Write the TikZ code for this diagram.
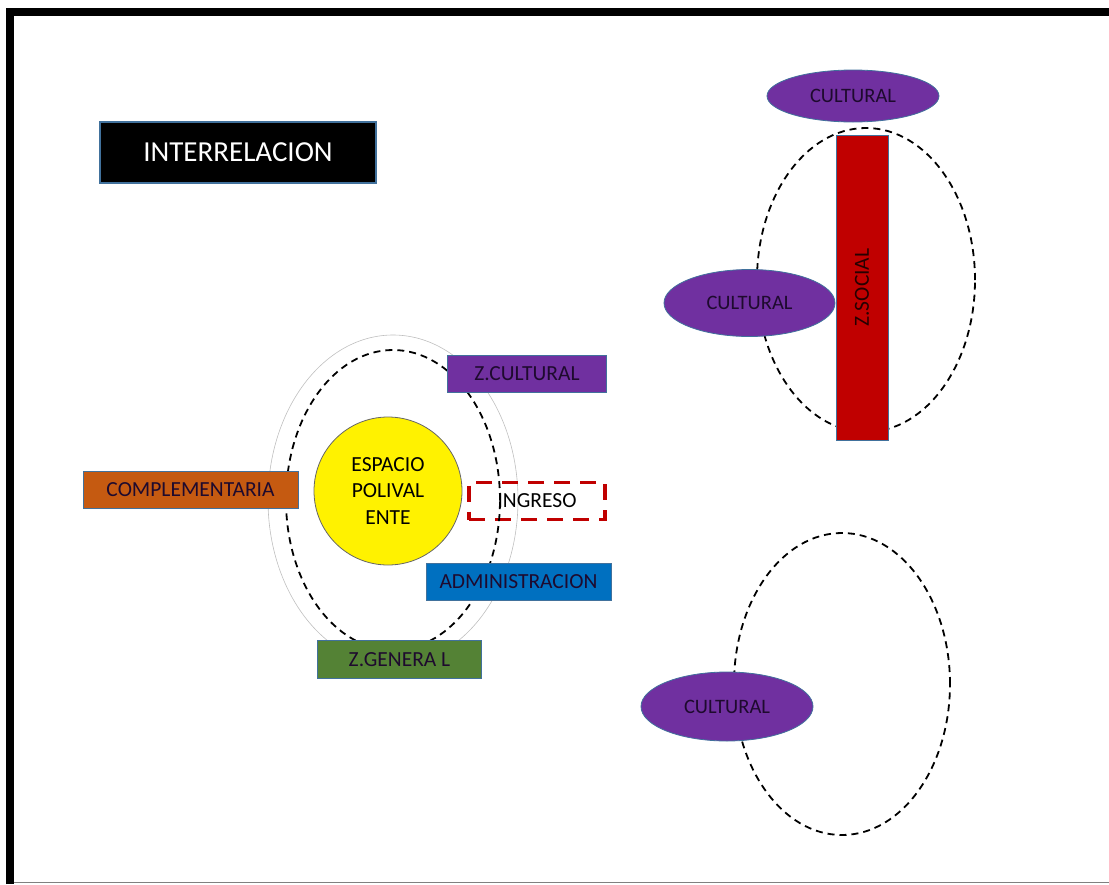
\documentclass[tikz,border=0pt]{standalone}
\usepackage{fontspec}
\setmainfont{Carlito}
\usetikzlibrary{shapes.geometric}
\definecolor{zpurple}{HTML}{7030A0}
\definecolor{zorange}{HTML}{C55A11}
\definecolor{zblue}{HTML}{0070C0}
\definecolor{zgreen}{HTML}{548235}
\definecolor{zred}{HTML}{C00000}
\definecolor{zborder}{HTML}{41719C}
\definecolor{ztext}{HTML}{1E0A2E}

\begin{document}
\begin{tikzpicture}[x=1pt, y=-1pt,
  zone/.style={draw=zborder, line width=0.8pt, minimum height=37pt, inner sep=0pt, font=\fontsize{21.5}{24}\selectfont},
  blob/.style={ellipse, draw=zborder, line width=0.8pt, fill=zpurple, inner sep=0pt, text=ztext, font=\fontsize{20.5}{24}\selectfont},
  ring/.style={ellipse, draw, dash pattern=on 7pt off 5pt, line width=1.8pt, inner sep=0pt}
]
\useasboundingbox (0,0) rectangle (1109,884);
% frame
\draw[line width=8pt, line join=miter] (10,884) -- (10,12) -- (1109,12);
\draw[gray, line width=1.5pt] (14,882.5) -- (1109,882.5);

% title
\node[draw=zborder, line width=1.5pt, fill=black, text=white, minimum width=276pt, minimum height=61pt, inner sep=0pt, font=\fontsize{29}{32}\selectfont] (title) at (238,152.5) {INTERRELACION};

% left group
\node[ellipse, draw=black!25, line width=0.6pt, minimum width=250pt, minimum height=330pt, inner sep=0pt] (outer) at (393,500) {};
\node[draw=zred, line width=3.5pt, dash pattern=on 16pt off 10pt, minimum width=136pt, minimum height=37pt, inner sep=0pt, font=\fontsize{21.5}{24}\selectfont] (ingreso) at (537,501) {INGRESO};
\node[ring, minimum width=214pt, minimum height=300pt] (ringL) at (393,500) {};
\node[circle, draw=black!60, line width=0.8pt, fill=yellow, minimum size=148pt, inner sep=0pt, align=center, font=\fontsize{21.5}{26.5}\selectfont] (espacio) at (388,491) {ESPACIO\\POLIVAL\\ENTE};
\node[zone, fill=zpurple, text=ztext, minimum width=159pt] (zcult) at (527,374) {Z.CULTURAL};
\node[zone, fill=zorange, text=ztext, minimum width=215pt] (compl) at (190.5,489.5) {COMPLEMENTARIA};
\node[zone, fill=zblue, text=ztext, minimum width=185pt] (admin) at (518.5,581.5) {ADMINISTRACION};
\node[zone, fill=zgreen, text=ztext, minimum width=164pt, minimum height=38pt] (zgen) at (399.5,659.5) {Z.GENERA L};

% top right group
\node[blob, minimum width=172pt, minimum height=52pt] (cultA) at (853,96) {CULTURAL};
\node[ring, minimum width=218pt, minimum height=304pt] (ringA) at (866,280) {};
\node[zone, fill=zred, text=black!80!zred, rotate=90, minimum width=305pt, minimum height=52pt] (zsocial) at (862,287.5) {Z.SOCIAL};
\node[blob, minimum width=171pt, minimum height=67pt] (cultB) at (749.5,303) {CULTURAL};

% bottom right group
\node[ring, minimum width=216pt, minimum height=302pt] (ringB) at (842,684) {};
\node[blob, minimum width=172pt, minimum height=69pt] (cultC) at (727,706.5) {CULTURAL};
\end{tikzpicture}
\end{document}
